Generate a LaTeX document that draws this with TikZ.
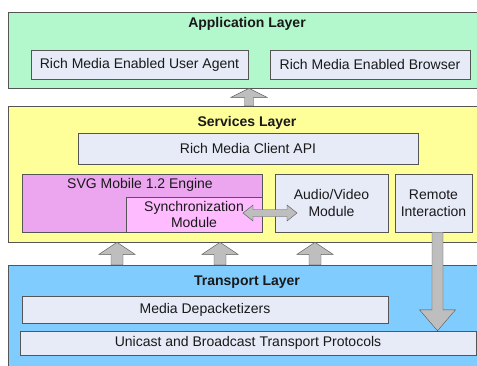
\documentclass[tikz,border=0pt]{standalone}
\usepackage{fontspec}
\setmainfont{Liberation Sans}
\usetikzlibrary{
	calc,
	positioning
}
\definecolor{appgreen}{RGB}{179,247,204}
\definecolor{svcyellow}{RGB}{255,255,153}
\definecolor{transblue}{RGB}{128,204,255}
\definecolor{modfill}{RGB}{230,235,247}
\definecolor{svgpink}{RGB}{236,166,240}
\definecolor{syncpink}{RGB}{255,187,255}
\definecolor{arrowgray}{RGB}{190,190,190}
\definecolor{edgegray}{RGB}{85,85,85}
\definecolor{textgray}{RGB}{25,25,25}
\tikzset{
	Layer-Box/.style={rectangle,draw=edgegray,semithick,inner sep=0pt},
	Layer-Title/.style={inner sep=0pt,text=textgray,font=\fontsize{14}{16.5}\selectfont\bfseries},
	Mod-Box/.style={rectangle,draw=edgegray,fill=modfill,thin,inner sep=0pt,align=center,
		text=textgray,font=\fontsize{14}{16.5}\selectfont},
	Block-Arrow/.style n args={3}{draw=edgegray,fill=arrowgray,thin,
		to path={let \p1=($(\tikztotarget)-(\tikztostart)$), \n1={atan2(\y1,\x1)} in
			($(\tikztostart)+({\n1+90}:#1)$) -- ($(\tikztotarget)+({\n1+180}:#3)+({\n1+90}:#1)$)
			-- ($(\tikztotarget)+({\n1+180}:#3)+({\n1+90}:#2)$) -- (\tikztotarget)
			-- ($(\tikztotarget)+({\n1+180}:#3)+({\n1-90}:#2)$) -- ($(\tikztotarget)+({\n1+180}:#3)+({\n1-90}:#1)$)
			-- ($(\tikztostart)+({\n1-90}:#1)$) -- cycle}},
	Block-DArrow/.style n args={3}{draw=edgegray,fill=arrowgray,thin,
		to path={let \p1=($(\tikztotarget)-(\tikztostart)$), \n1={atan2(\y1,\x1)} in
			($(\tikztostart)+(\n1:#3)+({\n1+90}:#1)$) -- ($(\tikztotarget)+({\n1+180}:#3)+({\n1+90}:#1)$)
			-- ($(\tikztotarget)+({\n1+180}:#3)+({\n1+90}:#2)$) -- (\tikztotarget)
			-- ($(\tikztotarget)+({\n1+180}:#3)+({\n1-90}:#2)$) -- ($(\tikztotarget)+({\n1+180}:#3)+({\n1-90}:#1)$)
			-- ($(\tikztostart)+(\n1:#3)+({\n1-90}:#1)$) -- ($(\tikztostart)+(\n1:#3)+({\n1-90}:#2)$)
			-- (\tikztostart) -- ($(\tikztostart)+(\n1:#3)+({\n1+90}:#2)$) -- cycle}}
}

\begin{document}
\begin{tikzpicture}[x=1pt,y=-1pt]
	\clip (0,0) rectangle (477,365);
	\fill [white] (0,0) rectangle (477,365);
	% the three layers
	\node [Layer-Box,fill=appgreen,minimum width=476pt,minimum height=76pt] (app_layer) at (246,50) {};
	\node [Layer-Box,fill=svcyellow,minimum width=476pt,minimum height=136pt] (svc_layer) at (246,174) {};
	\node [Layer-Box,fill=transblue,minimum width=476pt,minimum height=110pt] (trans_layer) at (246,320) {};
	\node [Layer-Title] (app_title) at (247,24) {Application Layer};
	\node [Layer-Title] (svc_title) at (247,123) {Services Layer};
	\node [Layer-Title] (trans_title) at (247,282) {Transport Layer};
	% application layer
	\node [Mod-Box,minimum width=217pt,minimum height=29pt] (user_agent) at (139.5,64.5) {Rich Media Enabled User Agent};
	\node [Mod-Box,minimum width=200pt,minimum height=29pt] (browser) at (370,64.5) {Rich Media Enabled Browser};
	% services layer
	\node [Mod-Box,minimum width=340pt,minimum height=31pt] (client_api) at (248,148.5) {Rich Media Client API};
	\node [Mod-Box,fill=svgpink,minimum width=240pt,minimum height=58pt] (svg_engine) at (142,203) {};
	\node [inner sep=0pt,text=textgray,font=\fontsize{14}{16.5}\selectfont] (svg_label) at (140,185) {SVG Mobile 1.2 Engine};
	\node [Mod-Box,fill=syncpink,minimum width=136pt,minimum height=35pt] (sync) at (194,214.5) {Synchronization\\Module};
	\node [Mod-Box,minimum width=113pt,minimum height=58pt] (av_module) at (331.5,203) {Audio/Video\\Module};
	\node [Mod-Box,minimum width=77pt,minimum height=58pt] (remote) at (433.5,203) {Remote\\Interaction};
	% transport layer
	\node [Mod-Box,minimum width=366pt,minimum height=27pt] (depack) at (205,309.5) {Media Depacketizers};
	\node [Mod-Box,minimum width=456pt,minimum height=24pt] (unicast) at (248,343) {Unicast and Broadcast Transport Protocols};
	% block arrows
	\coordinate (app_x) at (249,0);
	\draw [Block-Arrow={4.5pt}{18pt}{9pt}] (svc_layer.north -| app_x) to (app_layer.south -| app_x);
	\foreach \xx [count=\k] in {117,220,315} {
		\coordinate (up_x\k) at (\xx,0);
		\draw [Block-Arrow={6pt}{18pt}{12pt}] (trans_layer.north -| up_x\k) to (svc_layer.south -| up_x\k);
	}
	\coordinate (down_x) at (437.5,0);
	\draw [Block-Arrow={5.5pt}{18pt}{21pt}] (remote.south -| down_x) to (unicast.north -| down_x);
	\coordinate (sync_end) at (243,213);
	\coordinate (av_end) at (297,213);
	\draw [Block-DArrow={3.5pt}{8pt}{10pt}] (sync_end) to (av_end);
\end{tikzpicture}
\end{document}
